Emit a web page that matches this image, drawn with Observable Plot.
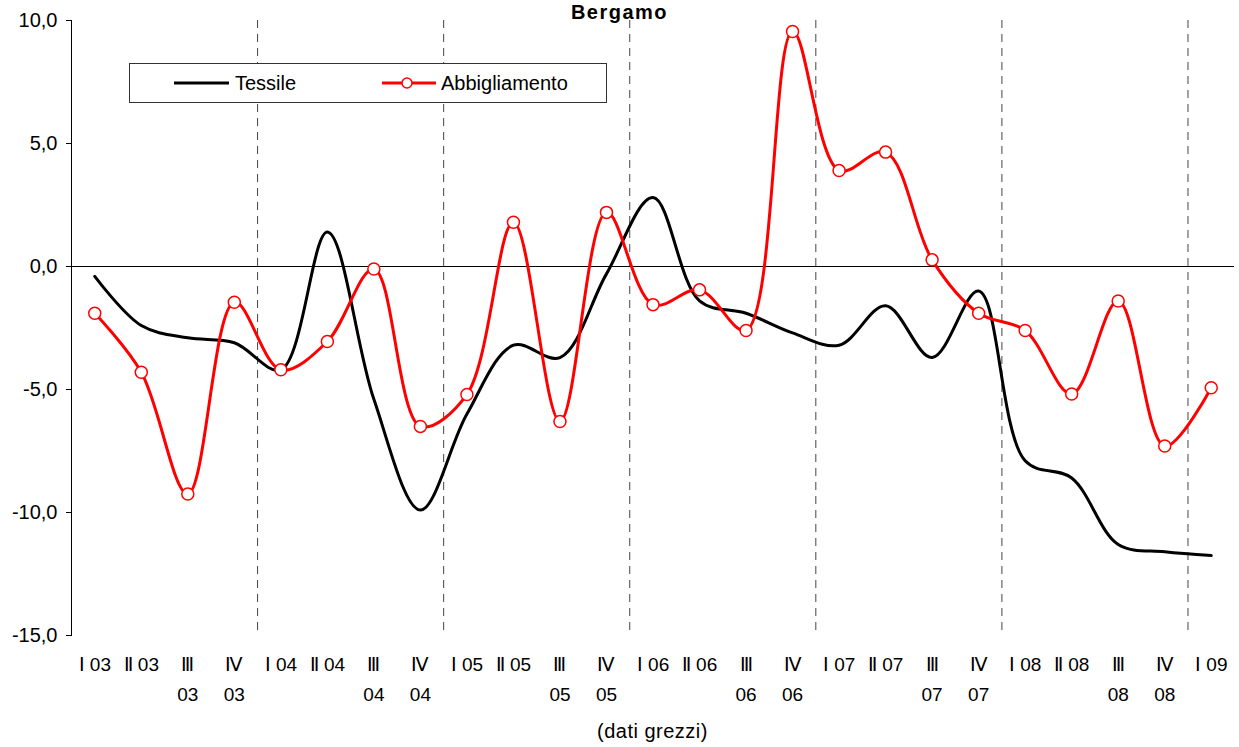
<!DOCTYPE html>
<html>
<head>
<meta charset="utf-8">
<script src="https://cdn.jsdelivr.net/npm/d3@7"></script>
<script src="https://cdn.jsdelivr.net/npm/@observablehq/plot@0.6"></script>
<style>
  html, body { margin: 0; padding: 0; background: #fff; }
  body { font-family: "Liberation Sans", Arial, sans-serif; }
  #wrap { position: relative; width: 1239px; height: 747px; overflow: hidden; }
  #title { position: absolute; left: 0; top: 1px; width: 1239px; text-align: center; font-weight: bold; font-size: 20px; letter-spacing: 1.5px; z-index: 2; }
  #legend { position: absolute; left: 129px; top: 63px; width: 476px; height: 38px; border: 1px solid #333; background: #fff; z-index: 2; }
  #caption { text-align: center; font-size: 20px; letter-spacing: 0.5px; padding-left: 66px; height: 35px; line-height: 38px; }
</style>
</head>
<body>
<div id="wrap">
  <div id="title">Bergamo</div>
  <div id="legend"></div>
  <div id="chart"></div>
  <div id="caption">(dati grezzi)</div>
</div>
<script>
const quarters = ["Ⅰ 03","Ⅱ 03","Ⅲ\n03","Ⅳ\n03","Ⅰ 04","Ⅱ 04","Ⅲ\n04","Ⅳ\n04","Ⅰ 05","Ⅱ 05","Ⅲ\n05","Ⅳ\n05","Ⅰ 06","Ⅱ 06","Ⅲ\n06","Ⅳ\n06","Ⅰ 07","Ⅱ 07","Ⅲ\n07","Ⅳ\n07","Ⅰ 08","Ⅱ 08","Ⅲ\n08","Ⅳ\n08","Ⅰ 09"];
const tessile = [-0.4,-2.4,-2.9,-3.1,-4.2,1.4,-5.4,-9.9,-6.0,-3.2,-3.7,-0.3,2.8,-1.4,-1.9,-2.7,-3.2,-1.6,-3.7,-1.0,-7.9,-8.6,-11.3,-11.6,-11.75];
const abbigliamento = [-1.9,-4.3,-9.25,-1.45,-4.2,-3.05,-0.1,-6.5,-5.2,1.8,-6.3,2.2,-1.55,-0.95,-2.6,9.55,3.9,4.65,0.27,-1.9,-2.6,-5.18,-1.4,-7.3,-4.93];
const yTicks = [-15,-10,-5,0,5,10];
const yearBreaks = [3.5,7.5,11.5,15.5,19.5,23.5];

const tData = tessile.map((v,i)=>({i, v}));
const aData = abbigliamento.map((v,i)=>({i, v}));
const fmt = d => d.toFixed(1).replace(".", ",");

const chart = Plot.plot({
  width: 1239,
  height: 712,
  marginTop: 20,
  marginBottom: 77,
  marginLeft: 71,
  marginRight: 5,
  style: { fontFamily: '"Liberation Sans", Arial, sans-serif', fontSize: "19px", color: "#000", background: "#fff" },
  x: { domain: [-0.5, 24.5] },
  y: { domain: [-15, 10] },
  marks: [
    Plot.ruleX(yearBreaks, { stroke: "#444", strokeWidth: 1, strokeDasharray: "8,6" }),
    Plot.ruleY([0], { stroke: "#000", strokeWidth: 1 }),
    Plot.frame({ anchor: "left", stroke: "#000" }),
    Plot.axisY({ ticks: yTicks, tickFormat: fmt, tickSize: 5, tickPadding: 9, label: null, fontSize: 20 }),
    Plot.axisX({ ticks: d3.range(quarters.length), tickFormat: i => quarters[i], tickSize: 0, tickPadding: 15, label: null, lineHeight: 1.55, fontSize: 19 }),
    Plot.line(tData, { x: "i", y: "v", stroke: "#000", strokeWidth: 3, curve: "catmull-rom" }),
    Plot.line(aData, { x: "i", y: "v", stroke: "#ff0000", strokeWidth: 3, curve: "catmull-rom" }),
    Plot.dot(aData, { x: "i", y: "v", r: 6, fill: "#fff", stroke: "#ff0000", strokeWidth: 1.5 })
  ]
});
document.getElementById("chart").appendChild(chart);

document.getElementById("legend").innerHTML = `
<svg width="476" height="38" style="display:block">
  <line x1="44" x2="99" y1="19" y2="19" stroke="#000" stroke-width="3"/>
  <text x="105" y="26" font-size="20" font-family="Liberation Sans, Arial, sans-serif">Tessile</text>
  <line x1="252" x2="306" y1="19" y2="19" stroke="#ff0000" stroke-width="3"/>
  <circle cx="277" cy="19" r="5" fill="#fff" stroke="#ff0000" stroke-width="1.5"/>
  <text x="311" y="26" font-size="20" font-family="Liberation Sans, Arial, sans-serif">Abbigliamento</text>
</svg>`;
</script>
</body>
</html>
